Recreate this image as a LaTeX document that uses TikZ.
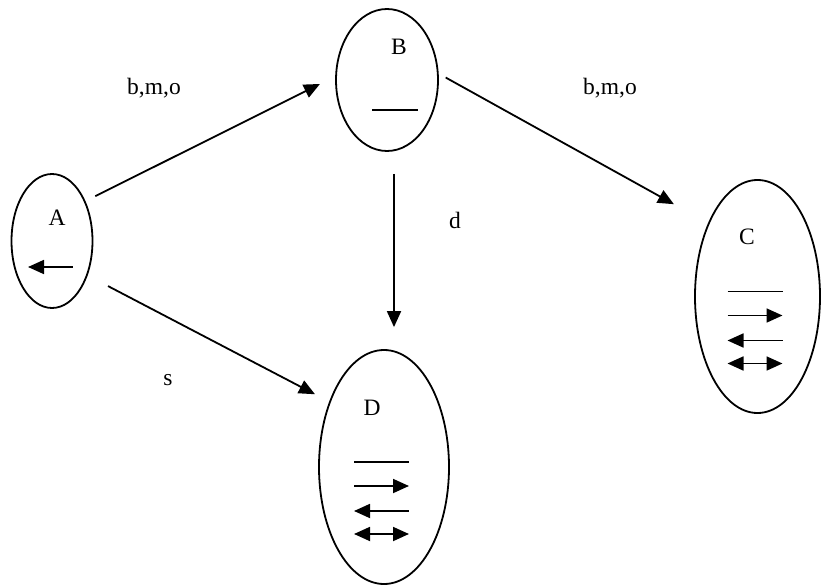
\documentclass[tikz,border=0pt]{standalone}
\usepackage{fontspec}
\setmainfont{Liberation Serif}
\usetikzlibrary{shapes.geometric,arrows.meta}
\tikzset{
  state/.style = {shape=ellipse, draw, line width=1.8pt, inner sep=0pt},
  trans/.style = {draw, line width=1.8pt, ->},
  glyph/.style = {draw, line width=1.8pt},
  tag/.style   = {inner sep=0pt},
}
% stack of relation symbols inside a state
\newcommand{\relstack}[1]{%
  \draw [glyph]     ([shift={(-30,-5)}]#1.center) -- ++(55,0);
  \draw [glyph, ->] ([shift={(-30,19)}]#1.center) -- ++(55,0);
  \draw [glyph, <-] ([shift={(-30,44)}]#1.center) -- ++(55,0);
  \draw [glyph, <->]([shift={(-30,67)}]#1.center) -- ++(55,0);
}

\begin{document}
\begin{tikzpicture}
  [
    x = 1pt, y = -1pt,
    >                 = {Triangle[length=16pt,width=14pt]},
    every node/.style = {font=\fontsize{23.5}{28}\selectfont}
  ]
  \useasboundingbox (0,0) rectangle (822,586);

  % states
  \node [state, minimum width=81pt,  minimum height=134pt] (A) at (52,241)      {};
  \node [state, minimum width=102pt, minimum height=142pt] (B) at (387,80)      {};
  \node [state, minimum width=125pt, minimum height=233pt] (C) at (757.5,296.5) {};
  \node [state, minimum width=130pt, minimum height=234pt] (D) at (384,467)     {};

  \node [tag] (Aname) at (57,218)  {A};
  \node [tag] (Bname) at (399,47)  {B};
  \node [tag] (Cname) at (747,237) {C};
  \node [tag] (Dname) at (372,408) {D};

  % contents
  \draw [glyph, <-] ([shift={(-24,26)}]A.center) -- ++(45,0);
  \draw [glyph]     ([shift={(-15,30)}]B.center) -- ++(46,0);
  \relstack{C}
  \relstack{D}

  % transitions
  \draw [trans, shorten <=11pt, shorten >=17pt] (A.50)  -- (B.176);
  \draw [trans, shorten <=8pt,  shorten >=39pt] (B.7)   -- (C.124);
  \draw [trans, shorten <=23pt, shorten >=16pt] (A.-44) -- (D.130);
  \draw [trans, shorten <=22pt, shorten >=22pt] ([xshift=7pt]B.south) -- ([xshift=10pt]D.north);

  \node [tag] (ab) at (154,88)  {b,m,o};
  \node [tag] (bc) at (610,88)  {b,m,o};
  \node [tag] (bd) at (455,220) {d};
  \node [tag] (ad) at (168,380) {s};
\end{tikzpicture}
\end{document}
